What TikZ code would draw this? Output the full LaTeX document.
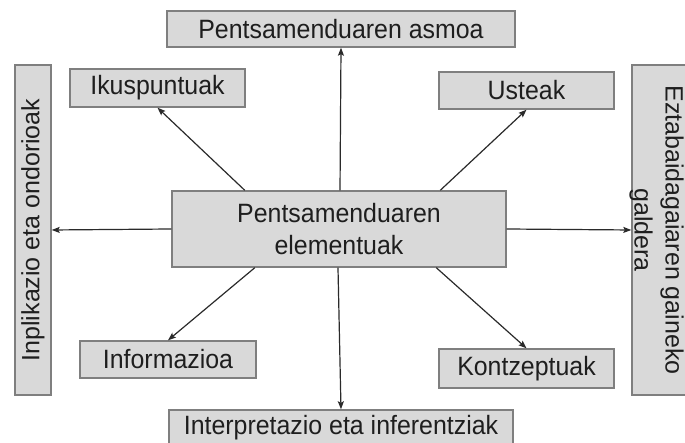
\documentclass[tikz,border=0pt]{standalone}
\usepackage{fontspec}
\setmainfont{Liberation Sans}
\newfontfamily\narrowsans[FakeStretch=0.94]{Liberation Sans}
\usetikzlibrary{arrows.meta,calc}
\definecolor{boxfill}{HTML}{D9D9D9}
\definecolor{boxline}{HTML}{7F7F7F}
\definecolor{inkc}{HTML}{1E1E1E}
\definecolor{arrc}{HTML}{2A2A2A}
\tikzset{
  elbox/.style={draw=boxline, fill=boxfill, line width=1.4pt, inner sep=0pt,
    text=inkc, font=\narrowsans\fontsize{26.5}{32}\selectfont, align=center},
  sidebox/.style={draw=boxline, fill=boxfill, line width=1.4pt, inner sep=0pt,
    text=inkc, font=\fontsize{25}{32}\selectfont, align=center},
  sidetext/.style={inner sep=0pt, text=inkc, font=\fontsize{25}{31}\selectfont, align=center},
  conn/.style={draw=arrc, line width=1.2pt, -{Stealth[length=8pt,width=6pt,inset=1.5pt]}}
}
\begin{document}
\begin{tikzpicture}[x=1pt,y=1pt]
\useasboundingbox (0,0) rectangle (685,443);
\node[elbox, minimum width=348pt, minimum height=36pt] (asmoa) at (341,414) {Pentsamenduaren asmoa};
\node[elbox, minimum width=175pt, minimum height=38pt] (ikus) at (157.5,355) {Ikuspuntuak};
\node[elbox, minimum width=175pt, minimum height=37pt] (usteak) at (526.5,352.5) {Usteak};
\node[sidebox, rotate=90, minimum width=330pt, minimum height=36pt] (inpl) at (33,213) {Inplikazio eta ondorioak};
\node[sidebox, rotate=-90, minimum width=330pt, minimum height=55pt] (ezt) at (659.5,213) {};
\node[sidetext, rotate=-90] (eztlbl) at (656.5,213) {Eztabaidagaiaren gaineko\\galdera};
\node[elbox, minimum width=334pt, minimum height=76pt] (elem) at (339,214) {Pentsamenduaren\\elementuak};
\node[elbox, minimum width=176pt, minimum height=37pt] (info) at (168,83.5) {Informazioa};
\node[elbox, minimum width=175pt, minimum height=39pt] (kontz) at (526.5,74.5) {Kontzeptuak};
\node[elbox, minimum width=344pt, minimum height=36pt] (interp) at (341,15) {Interpretazio eta inferentziak};

\draw[conn] ($(elem.north west)!0.503!(elem.north east)$) -- (asmoa.south);
\draw[conn] ($(elem.north west)!0.219!(elem.north east)$) -- (ikus.south);
\draw[conn] ($(elem.north west)!0.802!(elem.north east)$) -- (usteak.south);
\draw[conn] (elem.west) -- (inpl.south);
\draw[conn] (elem.east) -- (ezt.south);
\draw[conn] ($(elem.south west)!0.249!(elem.south east)$) -- (info.north);
\draw[conn] ($(elem.south west)!0.497!(elem.south east)$) -- (interp.north);
\draw[conn] ($(elem.south west)!0.79!(elem.south east)$) -- (kontz.north);
\end{tikzpicture}
\end{document}
